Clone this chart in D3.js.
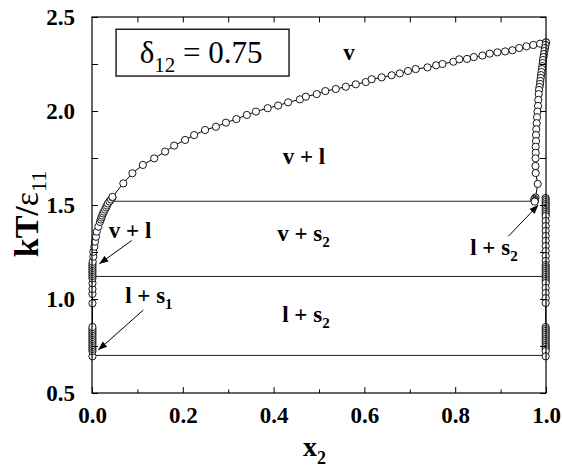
<!DOCTYPE html>
<html><head><meta charset="utf-8">
<script src="https://cdn.jsdelivr.net/npm/d3@7"></script>
<style>
html,body{margin:0;padding:0;background:#fff;}
svg{display:block;}
</style></head>
<body>
<svg id="chart" width="562" height="468"></svg>
<script>
// ---------- data ----------
const xTicksMajor = [0, 0.2, 0.4, 0.6, 0.8, 1.0];
const xTicksMinor = [0.1, 0.3, 0.5, 0.7, 0.9];
const xTicksTop = [0.1,0.2,0.3,0.4,0.5,0.6,0.7,0.8,0.9];
const yTicksMajor = [0.5, 1.0, 1.5, 2.0, 2.5];
const yTicksMinor = [0.75, 1.25, 1.75, 2.25];

// vapour (dew) curve
const dewX = [0.045,0.069,0.089,0.112,0.137,0.161,0.181,0.205,0.225,0.249,0.273,0.295,0.318,0.341,0.361,0.387,0.410,0.432,0.458,0.471,0.495,0.514,0.537,0.559,0.581,0.603,0.616,0.638,0.660,0.678,0.696,0.713,0.739,0.758,0.772,0.796,0.809,0.826,0.841,0.860,0.876,0.893,0.910,0.926,0.941,0.957,0.972,0.987,1.000];
const dewT = [1.543,1.615,1.669,1.713,1.748,1.784,1.816,1.846,1.872,1.899,1.916,1.938,1.957,1.979,1.997,2.015,2.029,2.046,2.062,2.076,2.090,2.106,2.117,2.129,2.142,2.154,2.169,2.179,2.190,2.200,2.213,2.223,2.232,2.243,2.250,2.262,2.275,2.277,2.287,2.295,2.305,2.312,2.317,2.323,2.335,2.344,2.351,2.358,2.365];

// left branch (x2 -> 0)
const leftX = [0.045,0.042,0.0385,0.035,0.033,0.031,0.0286,0.0264,0.0242,0.0227,0.0209,0.0194,0.0176,
  0.0139,0.0104,0.0088,0.0066,0.0051,0.0029,0.0029,0.0015,
  0.001,0.001,0.001,0.001,0.001,0.001,0.001,
  0.001,0.001,0.001,0.001,0.001,
  0.001,0.001,0.001,0.001,0.001,0.001,0.001,0.001,0.001,0.001,0.001,0.001,0.001,
  0.001];
const leftT = [1.540,1.529,1.519,1.508,1.497,1.487,1.476,1.465,1.455,1.444,1.434,1.423,1.410,
  1.385,1.358,1.331,1.305,1.278,1.251,1.225,1.198,
  1.186,1.176,1.165,1.154,1.144,1.133,1.122,
  1.110,1.084,1.053,1.027,0.977,
  0.851,0.840,0.830,0.819,0.809,0.798,0.787,0.777,0.766,0.755,0.745,0.734,0.723,
  0.695];

// right liquid branch (x2 -> 1)
const rightX = [1.0,0.9989,0.9978,0.9967,0.9956,0.9945,0.9934,0.9927,0.9919,0.9912,0.9901,0.9890,0.9883,0.9874,0.9868,0.9857,0.9846,0.9839,0.9830,0.9824,0.9813,0.9802,0.9795,0.9786,0.978,0.978,0.9773,0.9773,0.9769,0.9769,0.9773,0.9817,0.977,0.975,0.974,0.976,0.975];
const rightT = [2.365,2.351,2.335,2.319,2.303,2.287,2.271,2.255,2.239,2.223,2.207,2.191,2.176,2.160,2.144,2.128,2.112,2.090,2.059,2.027,1.997,1.967,1.935,1.903,1.872,1.840,1.810,1.778,1.748,1.707,1.670,1.612,1.540,1.533,1.527,1.522,1.518];

// column at x2 = 1
const edgeX = 0.9993;
const edgeT = [1.537,1.527,1.516,1.505,1.495,1.484,1.473,1.463,1.452,1.441,
  1.415,1.388,1.362,1.335,1.309,1.282,1.255,1.229,1.202,
  1.181,1.170,1.160,1.149,1.138,1.128,1.117,1.106,1.096,1.085,
  1.059,1.032,1.005,0.979,
  0.851,0.840,0.830,0.819,0.809,0.798,0.787,0.777,0.766,0.755,0.745,0.734,0.723,
  0.695];

// three-phase tie lines
const tieT  = [1.52, 1.12, 0.70];
const tieX0 = [0.045, 0.0, 0.0];
const tieX1 = [0.975, 1.0, 1.0];

// region labels
const labelBase = ["v", "v + l", "v + s", "l + s", "v + l", "l + s", "l + s"];
const labelSub  = ["",  "",      "2",     "2",     "",      "1",     "2"];
const labelX    = [0.566, 0.420, 0.408, 0.419, 0.037, 0.073, 0.833];
const labelT    = [2.271, 1.718, 1.309, 0.878, 1.324, 0.979, 1.234];

// arrows
const arrowX0 = [0.0874, 0.1131, 0.9170];
const arrowT0 = [1.311, 0.9415, 1.3333];
const arrowX1 = [0.0161, 0.0139, 0.9830];
const arrowT1 = [1.187, 0.7287, 1.500];

// ---------- chart ----------
const SERIF = "'Liberation Serif','Times New Roman',Times,serif";
const svg = d3.select("#chart");
const x = d3.scaleLinear().domain([0, 1]).range([92, 546]);
const y = d3.scaleLinear().domain([0.5, 2.5]).range([393, 17]);

svg.append("defs").append("marker")
  .attr("id","ah").attr("markerUnits","userSpaceOnUse")
  .attr("markerWidth",9).attr("markerHeight",7)
  .attr("refX",9).attr("refY",3.5).attr("orient","auto")
  .append("path").attr("d","M0,0 L9,3.5 L0,7 z").attr("fill","#000");

// tie lines
svg.append("g").selectAll("line").data(tieT).join("line")
  .attr("x1",(d,i)=>x(tieX0[i])).attr("x2",(d,i)=>x(tieX1[i]))
  .attr("y1",d=>y(d)).attr("y2",d=>y(d))
  .attr("stroke","#222").attr("stroke-width",1);

const line = d3.line().x(d=>x(d[0])).y(d=>y(d[1]));
const dew = dewX.map((v,i)=>[v,dewT[i]]);
const left = leftX.map((v,i)=>[v,leftT[i]]);
const right = rightX.map((v,i)=>[v,rightT[i]]);
const edge = edgeT.map(t=>[edgeX,t]);

[dew,left,right,edge].forEach(s=>{
  svg.append("path").attr("d",line(s)).attr("fill","none")
    .attr("stroke","#000").attr("stroke-width",1);
});

const pts = [].concat(left.slice().reverse(), dew, right, edge);
svg.append("g").selectAll("circle").data(pts).join("circle")
  .attr("cx",d=>x(d[0])).attr("cy",d=>y(d[1])).attr("r",3.6)
  .attr("fill","#fff").attr("stroke","#000").attr("stroke-width",0.9);

// frame
svg.append("rect").attr("x",x(0)).attr("y",y(2.5))
  .attr("width",x(1)-x(0)).attr("height",y(0.5)-y(2.5))
  .attr("fill","none").attr("stroke","#000").attr("stroke-width",1.2);

// axes
const fmt = d3.format(".1f");
function styleAxis(g){
  g.select(".domain").remove();
  g.selectAll("line").attr("stroke","#000").attr("stroke-width",1);
  g.selectAll("text")
    .style("font-family",SERIF).style("font-size","23px")
    .style("font-weight","bold").style("fill","#000");
}

svg.append("g").attr("transform",`translate(0,${y(0.5)})`)
  .call(d3.axisBottom(x).tickValues(xTicksMajor).tickSize(-6).tickPadding(14).tickFormat(fmt))
  .call(styleAxis);
svg.append("g").attr("transform",`translate(0,${y(0.5)})`)
  .call(d3.axisBottom(x).tickValues(xTicksMinor).tickSize(-3.5).tickFormat(""))
  .call(styleAxis);
svg.append("g").attr("transform",`translate(0,${y(2.5)})`)
  .call(d3.axisTop(x).tickValues(xTicksTop).tickSize(-5.5).tickFormat(""))
  .call(styleAxis);
svg.append("g").attr("transform",`translate(${x(0)},0)`)
  .call(d3.axisLeft(y).tickValues(yTicksMajor).tickSize(-6).tickPadding(17).tickFormat(fmt))
  .call(styleAxis);
svg.append("g").attr("transform",`translate(${x(0)},0)`)
  .call(d3.axisLeft(y).tickValues(yTicksMinor).tickSize(-6).tickFormat(""))
  .call(styleAxis);
svg.append("g").attr("transform",`translate(${x(1)},0)`)
  .call(d3.axisRight(y).tickValues(yTicksMajor.concat(yTicksMinor)).tickSize(-6).tickFormat(""))
  .call(styleAxis);

// axis titles
const xt = svg.append("text").attr("x",303).attr("y",456)
  .style("font-family",SERIF).style("font-size","28px").style("font-weight","bold").attr("fill","#000");
xt.append("tspan").text("x");
xt.append("tspan").attr("dy",8).style("font-size","18px").text("2");

const yt = svg.append("text").attr("transform","translate(38,214) rotate(-90)")
  .attr("text-anchor","middle")
  .style("font-family",SERIF).style("font-size","34px").attr("fill","#000");
yt.append("tspan").style("font-weight","bold").text("kT/");
yt.append("tspan").text("ε");
yt.append("tspan").attr("dy",8).style("font-size","22px").text("11");

// delta box
svg.append("rect").attr("x",x(0.053)).attr("y",y(2.435))
  .attr("width",x(0.434)-x(0.053)).attr("height",y(2.186)-y(2.435))
  .attr("fill","#fff").attr("stroke","#000").attr("stroke-width",1.3);
const bt = svg.append("text").attr("x",x(0.105)).attr("y",y(2.255))
  .style("font-family",SERIF).style("font-size","31px").attr("fill","#000");
bt.append("tspan").text("δ");
bt.append("tspan").attr("dy",9).style("font-size","21px").text("12");
bt.append("tspan").attr("dy",-9).text(" = 0.75");

// region labels
labelBase.forEach((b,i)=>{
  const t = svg.append("text").attr("x",x(labelX[i])).attr("y",y(labelT[i]))
    .style("font-family",SERIF).style("font-size","23px").style("font-weight","bold").attr("fill","#000")
    .attr("text-anchor", i===0 ? "middle" : "start");
  t.append("tspan").text(b);
  if (labelSub[i]) t.append("tspan").attr("dy",6).style("font-size","15px").text(labelSub[i]);
});

// arrows
svg.append("g").selectAll("line").data(arrowX0).join("line")
  .attr("x1",(d,i)=>x(d)).attr("y1",(d,i)=>y(arrowT0[i]))
  .attr("x2",(d,i)=>x(arrowX1[i])).attr("y2",(d,i)=>y(arrowT1[i]))
  .attr("stroke","#000").attr("stroke-width",1).attr("marker-end","url(#ah)");
</script>
</body></html>
